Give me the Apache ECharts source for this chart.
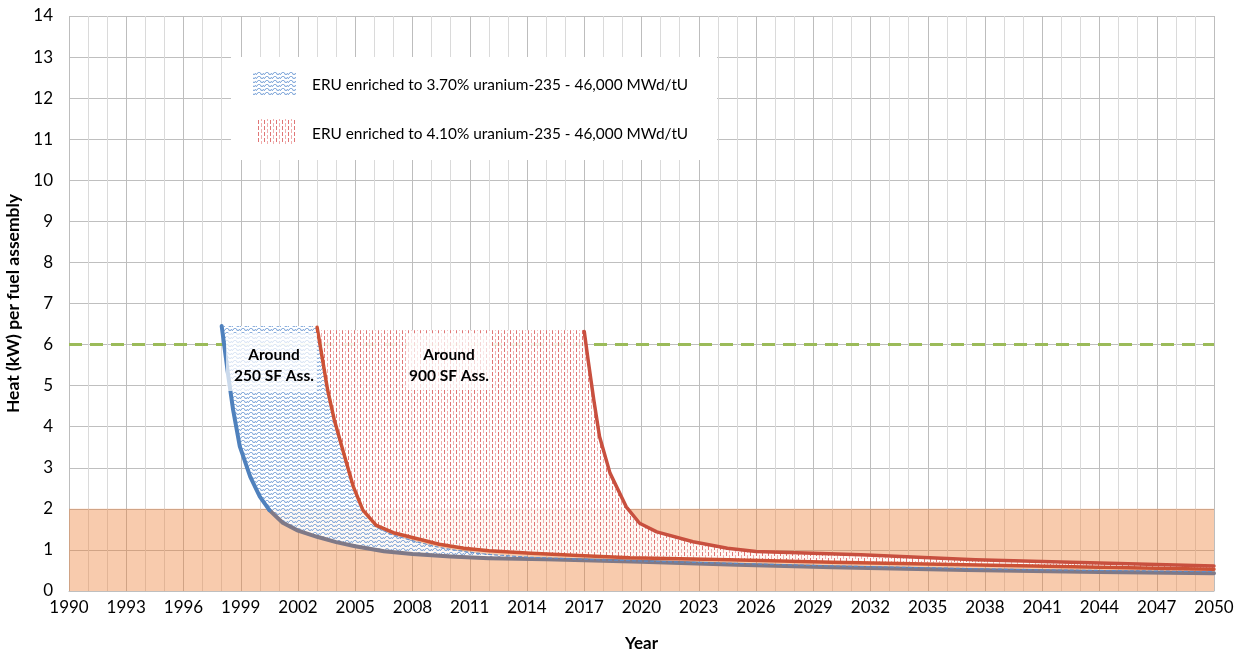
<!DOCTYPE html>
<html style="height: 100%">
<head>
    <meta charset="utf-8">
    <style>
        body { margin: 0; background: #fff; }
        #container { width: 1237px; height: 653px; }
    </style>
</head>
<body>
<div id="container"></div>
<script src="https://cdn.jsdelivr.net/npm/echarts@6/dist/echarts.min.js"></script>
<script type="text/javascript">
    // values: [year, kW per assembly]
    var blue1998 = [[1998, 6.45], [1998.35, 5.22], [1998.6, 4.41], [1998.95, 3.52], [1999.5, 2.78], [2000, 2.3], [2000.5, 1.97]];
    var grayBase = [[2000.5, 1.97], [2001.2, 1.66], [2002, 1.47], [2003, 1.32], [2004, 1.19], [2005, 1.09], [2006.5, 0.97],
        [2008, 0.9], [2010, 0.84], [2012, 0.8], [2015, 0.77], [2017, 0.75], [2020, 0.71], [2025, 0.64], [2030, 0.58],
        [2037, 0.51], [2044, 0.46], [2050, 0.43]];
    var blue2003 = [[2003, 6.45], [2003.2, 5.87], [2003.55, 4.9], [2003.9, 4.17], [2004.4, 3.35], [2004.9, 2.54], [2005.4, 1.97],
        [2006.1, 1.55], [2007, 1.36], [2008.2, 1.2], [2009.4, 1.06], [2010.7, 0.96], [2012, 0.89], [2014.2, 0.82],
        [2017, 0.77], [2020, 0.73], [2030, 0.61], [2040, 0.52], [2050, 0.47]];
    var red2003 = [[2003, 6.42], [2003.2, 5.87], [2003.55, 4.9], [2003.9, 4.17], [2004.4, 3.35], [2004.9, 2.54], [2005.4, 1.97],
        [2006.1, 1.6], [2007, 1.42], [2008.2, 1.28], [2009.4, 1.14], [2010.7, 1.04], [2012, 0.98], [2014.2, 0.92],
        [2017, 0.86], [2019.4, 0.81], [2024.6, 0.76], [2030, 0.7], [2037, 0.64], [2044, 0.58], [2050, 0.53]];
    var red2017 = [[2017, 6.32], [2017.2, 5.63], [2017.5, 4.65], [2017.8, 3.76], [2018.35, 2.87], [2019.2, 2.05], [2019.9, 1.65],
        [2020.8, 1.44], [2022.7, 1.2], [2024.5, 1.04], [2026, 0.96], [2031.5, 0.88], [2037.5, 0.76], [2044, 0.68], [2050, 0.61]];
    var blueTop = 6.45;
    var redTop = 6.35;
    var heatLimit = 6;
    var lowBand = [0, 2];
    var yearRange = [1990, 2050];

    var legendNames = [
        'ERU enriched to 3.70% uranium-235 - 46,000 MWd/tU',
        'ERU enriched to 4.10% uranium-235 - 46,000 MWd/tU'
    ];
    var notes = ['Around\n250 SF Ass.', 'Around\n900 SF Ass.'];

    var FONT = 'Lato';

    // hatch patterns like the excel fills
    function wavePattern() {
        var c = document.createElement('canvas');
        c.width = 8; c.height = 4;
        var g = c.getContext('2d');
        g.fillStyle = 'rgba(255,255,255,0.88)';
        g.fillRect(0, 0, 8, 4);
        g.fillStyle = 'rgba(91,141,206,0.7)';
        var px = [[2, 0], [3, 0], [1, 1], [4, 1], [7, 1], [0, 2], [5, 2], [6, 2]];
        px.forEach(function (p) { g.fillRect(p[0], p[1], 1, 1); });
        g.fillStyle = 'rgba(91,141,206,0.22)';
        [[1, 0], [4, 0], [0, 1], [5, 1], [6, 1], [4, 2], [7, 2]].forEach(function (p) { g.fillRect(p[0], p[1], 1, 1); });
        return c;
    }
    function dashPattern() {
        var c = document.createElement('canvas');
        c.width = 6; c.height = 6;
        var g = c.getContext('2d');
        g.fillStyle = 'rgba(255,255,255,0.88)';
        g.fillRect(0, 0, 6, 6);
        g.fillStyle = 'rgba(214,72,72,0.75)';
        g.fillRect(0, 0, 1, 4);
        g.fillStyle = 'rgba(232,130,130,0.65)';
        g.fillRect(3, 3, 1, 4);
        g.fillRect(3, 0, 1, 1);
        return c;
    }
    var blueFill = {image: wavePattern(), repeat: 'repeat'};
    var redFill = {image: dashPattern(), repeat: 'repeat'};

    var bluePoly = [[blue1998[0][0], blueTop], [blue2003[0][0], blueTop]]
        .concat(blue2003, grayBase.slice().reverse(), blue1998.slice().reverse());
    var redPoly = [[red2003[0][0], redTop], [red2017[0][0], redTop]]
        .concat(red2017, red2003.slice().reverse());

    function areaSeries(name, pts, fill) {
        return {
            type: 'custom',
            name: name,
            z: 2,
            silent: true,
            data: pts,
            renderItem: function (params, api) {
                if (params.dataIndex !== 0) return null;
                return {
                    type: 'polygon',
                    shape: {points: pts.map(function (p) { return api.coord(p); })},
                    style: {fill: fill, stroke: null}
                };
            }
        };
    }

    function curve(data, color, width, z, dash) {
        return {
            type: 'line',
            data: data,
            showSymbol: false,
            silent: true,
            z: z,
            lineStyle: {color: color, width: width, type: dash || 'solid', cap: 'round', join: 'round'}
        };
    }

    var dom = document.getElementById('container');
    var myChart = echarts.init(dom);

    var option = {
        animation: false,
        grid: {left: 69, right: 23, top: 16, bottom: 62, outerBoundsMode: 'none'},
        xAxis: {
            type: 'value',
            min: yearRange[0],
            max: yearRange[1],
            interval: 3,
            name: 'Year',
            nameLocation: 'middle',
            nameGap: 44,
            nameTextStyle: {fontFamily: FONT, fontWeight: 'bold', fontSize: 17, color: '#000'},
            axisLine: {show: true, lineStyle: {color: '#bfbfbf'}},
            axisTick: {show: false},
            axisLabel: {
                fontFamily: FONT, fontSize: 17, color: '#000', margin: 8,
                formatter: function (v) { return String(v); }
            },
            splitLine: {show: true, lineStyle: {color: '#bdbdbd', width: 1}},
            minorTick: {show: false, splitNumber: 3},
            minorSplitLine: {show: true, lineStyle: {color: '#dadada', width: 1}}
        },
        yAxis: {
            type: 'value',
            min: 0,
            max: 14,
            interval: 1,
            name: 'Heat (kW) per fuel assembly',
            nameLocation: 'middle',
            nameGap: 39,
            nameTextStyle: {fontFamily: FONT, fontWeight: 'bold', fontSize: 17.5, color: '#000'},
            axisLine: {show: false},
            axisTick: {show: false},
            axisLabel: {fontFamily: FONT, fontSize: 17, color: '#000', margin: 16},
            splitLine: {show: true, lineStyle: {color: '#bfbfbf', width: 1}}
        },
        series: [
            {
                type: 'line',
                data: [[yearRange[0], heatLimit], [yearRange[1], heatLimit]],
                showSymbol: false,
                silent: true,
                z: 1,
                lineStyle: {color: '#9bbb59', width: 3, type: [13, 8]},
                markArea: {
                    silent: true,
                    itemStyle: {color: 'rgba(237,125,49,0.4)'},
                    data: [[{xAxis: yearRange[0], yAxis: lowBand[0]}, {xAxis: yearRange[1], yAxis: lowBand[1]}]]
                }
            },
            areaSeries(legendNames[0], bluePoly, blueFill),
            areaSeries(legendNames[1], redPoly, redFill),
            curve(grayBase, '#7f7987', 4, 3),
            curve(blue2003.slice(6), 'rgba(91,140,205,0.9)', 1.2, 3, [3, 3]),
            curve(red2003, '#cc5236', 3.5, 4),
            curve(red2017, '#c8503f', 3.5, 4),
            curve(blue1998, '#4f81bd', 4, 5)
        ],
        graphic: [
            {type: 'rect', shape: {x: 231, y: 57, width: 486, height: 103}, style: {fill: '#fff'}, z: 10},
            {type: 'rect', shape: {x: 253, y: 71, width: 43, height: 25}, style: {fill: blueFill}, z: 11},
            {type: 'rect', shape: {x: 256, y: 119, width: 41, height: 25}, style: {fill: redFill}, z: 11},
            {type: 'text', x: 312, y: 85, z: 11,
                style: {text: legendNames[0], font: '15.4px ' + FONT, fill: '#000', verticalAlign: 'middle'}},
            {type: 'text', x: 312, y: 134, z: 11,
                style: {text: legendNames[1], font: '15.4px ' + FONT, fill: '#000', verticalAlign: 'middle'}},
            {type: 'rect', shape: {x: 226, y: 333, width: 91, height: 58}, style: {fill: 'rgba(255,255,255,0.7)'}, z: 10},
            {type: 'text', x: 274, y: 365, z: 11,
                style: {text: notes[0], font: 'bold 15.5px ' + FONT, fill: '#000', align: 'center',
                    verticalAlign: 'middle', lineHeight: 21}},
            {type: 'rect', shape: {x: 407, y: 333, width: 85, height: 57}, style: {fill: 'rgba(255,255,255,0.7)'}, z: 10},
            {type: 'text', x: 449, y: 365, z: 11,
                style: {text: notes[1], font: 'bold 15.5px ' + FONT, fill: '#000', align: 'center',
                    verticalAlign: 'middle', lineHeight: 21}}
        ]
    };

    if (option && typeof option === "object") {
        myChart.setOption(option, true);
    }
</script>
</body>
</html>
